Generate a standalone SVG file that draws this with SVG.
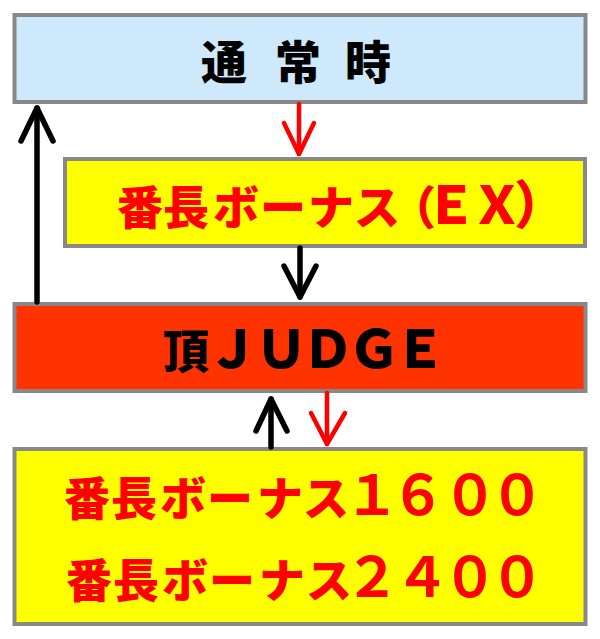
<svg xmlns="http://www.w3.org/2000/svg" width="600" height="639" viewBox="0 0 600 639">
<style>
.box{stroke:#888888;stroke-width:4}
.t{font-family:"Noto Sans CJK JP","Noto Sans CJK SC",sans-serif;font-weight:900;font-size:46px;text-anchor:middle}
.lat{font-size:52px}
.dig{font-size:55px;font-weight:700}
.red{fill:#ff0000}
.blk{fill:#000000}
.ar{fill:none;stroke-linecap:round;stroke-linejoin:round}
.ab{stroke:#000000;stroke-width:5.5}
.arr{stroke:#ff0000;stroke-width:4.5}
</style>
<rect width="600" height="639" fill="#ffffff"/>
<g id="node-normal">
<rect class="box" x="14.5" y="15" width="571" height="87" fill="#cde9fb"/>
<text class="t blk" x="224 298 368" y="79">通常時</text>
</g>
<g id="node-ex">
<rect class="box" x="65" y="159" width="520" height="87" fill="#ffff00"/>
<text class="t red" y="224"><tspan x="140 186 236 283 331 377 413">番長ボーナス（</tspan><tspan class="lat" x="451 497 540">ＥＸ）</tspan></text>
</g>
<g id="node-judge">
<rect class="box" x="14.5" y="304" width="571" height="87" fill="#ff3300"/>
<text class="t blk" y="368"><tspan x="186">頂</tspan><tspan class="lat" x="233 281 328 374 420">ＪＵＤＧＥ</tspan></text>
</g>
<g id="node-bonus">
<rect class="box" x="14.5" y="449" width="571" height="175" fill="#ffff00"/>
<text class="t red" y="515"><tspan x="87 134 183 230 280 326">番長ボーナス</tspan><tspan class="dig" x="372 418 470 517">１６００</tspan></text>
<text class="t red" y="597"><tspan x="89 136 185 232 282 329">番長ボーナス</tspan><tspan class="dig" x="372 422 470 517">２４００</tspan></text>
</g>
<g id="connectors" class="ar">
<g class="arr">
<line x1="299" y1="104" x2="299" y2="154"/>
<polyline points="284,123 299,154 314,123"/>
</g>
<g class="ab">
<line x1="300" y1="248" x2="300" y2="297"/>
<polyline points="284,266 300,297 316,266"/>
</g>
<g class="ab">
<line x1="37" y1="302" x2="37" y2="108"/>
<polyline points="21,141 37,108 53,141"/>
</g>
<g class="ab">
<line x1="271" y1="447" x2="271" y2="399"/>
<polyline points="256,431 271,399 287,431"/>
</g>
<g class="arr">
<line x1="327" y1="393" x2="327" y2="444"/>
<polyline points="311,413 327,444 345,413"/>
</g>
</g>
</svg>
